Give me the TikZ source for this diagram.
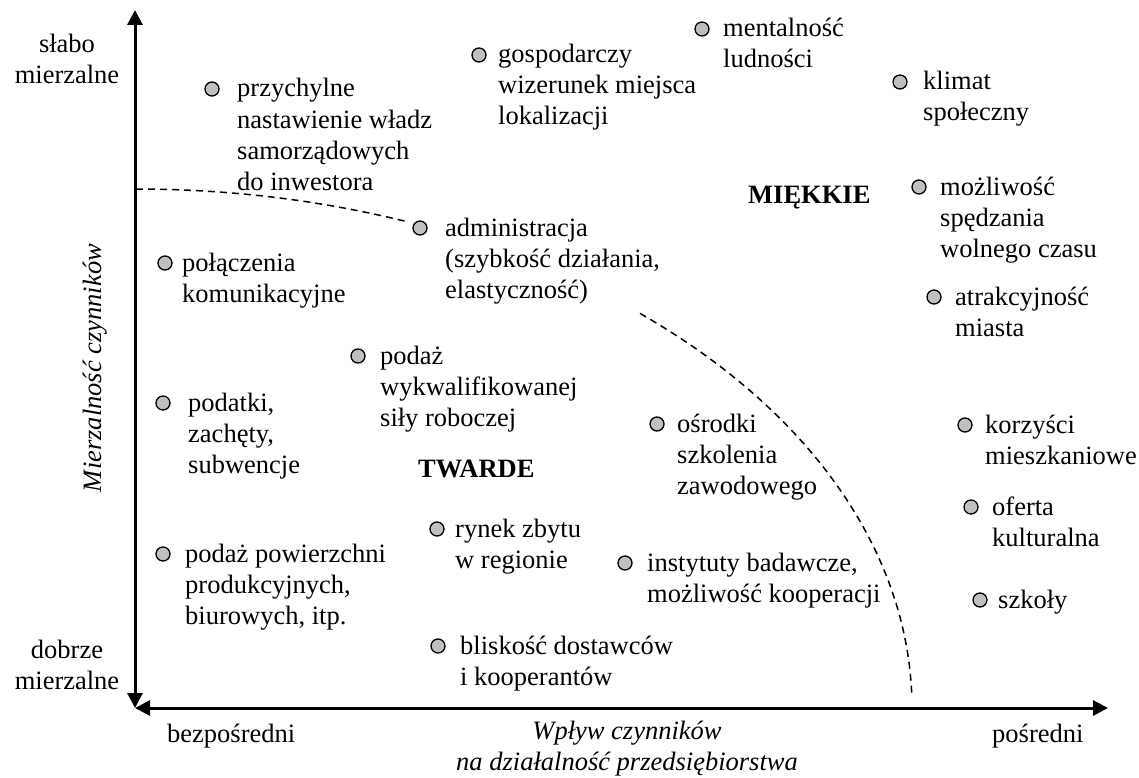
\documentclass[tikz,border=0pt]{standalone}
\usepackage{fontspec}
\setmainfont{Liberation Serif}
\usetikzlibrary{arrows.meta}
\definecolor{bulgray}{RGB}{192,192,192}
\newcommand{\fs}{\fontsize{26.5}{31}\selectfont}
\begin{document}
\begin{tikzpicture}[x=1pt,y=-1pt,
  bul/.style={circle,draw=black,fill=bulgray,line width=1.3pt,minimum size=14pt,inner sep=0pt},
  lab/.style={anchor=base west,align=left,inner sep=0pt,font=\fs},
  ctr/.style={anchor=base,align=center,inner sep=0pt,font=\fs},
  axis/.style={line width=3pt,{Triangle[length=15pt,width=15pt]}-{Triangle[length=15pt,width=15pt]}},
  bound/.style={dash pattern=on 7pt off 5pt,line width=1.5pt}]
\useasboundingbox[fill=white] (0,0) rectangle (1139,778);
% axes
\coordinate (O) at (135,708);
\coordinate (Yt) at (135,10);
\coordinate (Xr) at (1108,708);
\draw[axis] (O) -- (Yt);
\draw[axis] (O) -- (Xr);
% boundary (dashed quarter ellipse)
\draw[bound] plot[domain=90:69.5,samples=40] ({136+776*cos(\x)},{708-519*sin(\x)});
\draw[bound] plot[domain=49.5:1.4,samples=80] ({136+776*cos(\x)},{708-519*sin(\x)});
% axis labels
\node[ctr] (sl) at (67,84) {słabo\\mierzalne};
\node[ctr] (db) at (67,689) {dobrze\\mierzalne};
\node[rotate=90,inner sep=0pt,font=\fs\itshape] (ym) at (95,368) {Mierzalność czynników};
\node[lab] (bz) at (167,742) {bezpośredni};
\node[lab] (ps) at (992,742) {pośredni};
\node[ctr,font=\fs\itshape] (wp) at (627,770) {Wpływ czynników\\na działalność przedsiębiorstwa};
% region labels
\node[lab,font=\fs\bfseries] (mk) at (748,203) {MIĘKKIE};
\node[lab,font=\fs\bfseries] (tw) at (418,477) {TWARDE};
% factors
\node[bul] (b1) at (212,89) {};
\node[lab] (t1) at (237,190) {przychylne\\nastawienie władz\\samorządowych\\do inwestora};
\node[bul] (b2) at (479,55) {};
\node[lab] (t2) at (498,125) {gospodarczy\\wizerunek miejsca\\lokalizacji};
\node[bul] (b3) at (702,29) {};
\node[lab] (t3) at (723,68) {mentalność\\ludności};
\node[bul] (b4) at (900,82) {};
\node[lab] (t4) at (923,121) {klimat\\społeczny};
\node[bul] (b5) at (919,187) {};
\node[lab] (t5) at (940,257) {możliwość\\spędzania\\wolnego czasu};
\node[bul] (b6) at (934,297) {};
\node[lab] (t6) at (955,336) {atrakcyjność\\miasta};
\node[bul] (b7) at (420,228) {};
\node[lab] (t7) at (445,298) {administracja\\(szybkość działania,\\elastyczność)};
\node[bul] (b8) at (165,263) {};
\node[lab] (t8) at (182,302) {połączenia\\komunikacyjne};
\node[bul] (b9) at (358,356) {};
\node[lab] (t9) at (380,426) {podaż\\wykwalifikowanej\\siły roboczej};
\node[bul] (b10) at (163,403) {};
\node[lab] (t10) at (188,473) {podatki,\\zachęty,\\subwencje};
\node[bul] (b11) at (657,424) {};
\node[lab] (t11) at (677,494) {ośrodki\\szkolenia\\zawodowego};
\node[bul] (b12) at (437,529) {};
\node[lab] (t12) at (455,568) {rynek zbytu\\w regionie};
\node[bul] (b13) at (625,563) {};
\node[lab] (t13) at (647,602) {instytuty badawcze,\\możliwość kooperacji};
\node[bul] (b14) at (438,646) {};
\node[lab] (t14) at (460,685) {bliskość dostawców\\i kooperantów};
\node[bul] (b15) at (163,554) {};
\node[lab] (t15) at (185,624) {podaż powierzchni\\produkcyjnych,\\biurowych, itp.};
\node[bul] (b16) at (965,425) {};
\node[lab] (t16) at (985,464) {korzyści\\mieszkaniowe};
\node[bul] (b17) at (971,507) {};
\node[lab] (t17) at (992,546) {oferta\\kulturalna};
\node[bul] (b18) at (980,600) {};
\node[lab] (t18) at (998,608) {szkoły};
\end{tikzpicture}
\end{document}
